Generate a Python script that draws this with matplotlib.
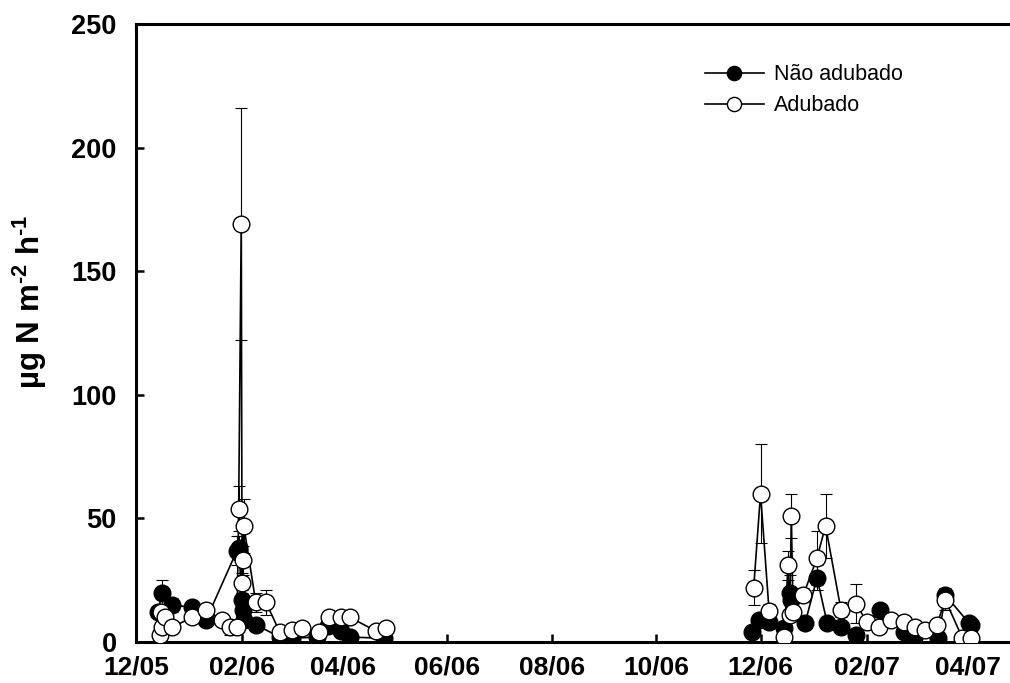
import matplotlib
matplotlib.use('Agg')
import matplotlib.pyplot as plt
import matplotlib.dates as mdates
import pandas as pd

plt.rcParams['font.family'] = ['Liberation Sans', 'DejaVu Sans']
plt.rcParams['mathtext.fontset'] = 'custom'
plt.rcParams['mathtext.rm'] = 'Liberation Sans:bold'
plt.rcParams['mathtext.it'] = 'Liberation Sans:bold'
plt.rcParams['mathtext.bf'] = 'Liberation Sans:bold'

# Não adubado (símbolos cheios)
datas_nao = ['2005-12-14', '2005-12-16', '2005-12-22', '2006-01-03', '2006-01-11',
             '2006-01-29', '2006-01-30', '2006-02-01', '2006-02-01 12:00', '2006-02-02',
             '2006-02-09', '2006-02-23', '2006-03-02', '2006-03-17', '2006-03-23',
             '2006-03-31', '2006-04-05', '2006-04-25',
             '2006-11-26', '2006-11-30', '2006-12-06', '2006-12-15', '2006-12-18',
             '2006-12-19', '2006-12-27', '2007-01-03', '2007-01-09', '2007-01-17',
             '2007-01-26', '2007-02-09', '2007-02-23', '2007-03-01', '2007-03-15',
             '2007-03-19', '2007-04-02', '2007-04-03']
valores_nao = [12, 20, 15, 14, 9,
               37, 38, 17, 13, 9,
               7, 2, 1.5, 2, 6.5,
               4.5, 2, 1.5,
               4, 9, 8, 5.5, 20,
               17, 7.5, 26, 7.5, 6,
               3, 13, 4, 3, 1.6,
               19, 7.5, 7]
erro_nao = [0, 5, 3, 0, 0,
            6, 5, 4, 0, 0,
            0, 0, 0, 0, 0,
            0, 0, 0,
            2, 2, 0, 0, 7,
            4, 0, 5, 0, 0,
            2, 0, 0, 0, 0,
            3, 0, 0]

# Adubado (símbolos vazios)
datas_adu = ['2005-12-15', '2005-12-16', '2005-12-15 12:00', '2005-12-18', '2005-12-22',
             '2006-01-03', '2006-01-11', '2006-01-20', '2006-01-25', '2006-01-29',
             '2006-01-30', '2006-01-31 12:00', '2006-02-01', '2006-02-01 12:00', '2006-02-02',
             '2006-02-09', '2006-02-15', '2006-02-23', '2006-03-02', '2006-03-08',
             '2006-03-18', '2006-03-24', '2006-03-31', '2006-04-05', '2006-04-20',
             '2006-04-26',
             '2006-11-27', '2006-12-01', '2006-12-06', '2006-12-15', '2006-12-17',
             '2006-12-18', '2006-12-19', '2006-12-20', '2006-12-26', '2007-01-03',
             '2007-01-08', '2007-01-17', '2007-01-26', '2007-02-01', '2007-02-08',
             '2007-02-15', '2007-02-23', '2007-03-01', '2007-03-07', '2007-03-14',
             '2007-03-19', '2007-03-29', '2007-04-03']
valores_adu = [3, 6, 12, 10, 6,
               10, 13, 9, 6, 6,
               54, 169, 24, 33, 47,
               16, 16, 4, 5, 5.5,
               4, 10, 10, 10, 4.5,
               5.5,
               22, 60, 12.5, 2, 31,
               11, 51, 12, 19, 34,
               47, 13, 15.5, 8, 6,
               9, 8, 6, 5, 7,
               17, 1.6, 1.6]
erro_adu = [2, 0, 0, 0, 0,
            0, 0, 0, 3, 0,
            9, 47, 4, 6, 11,
            4, 5, 0, 0, 0,
            0, 0, 0, 0, 0,
            0,
            7, 20, 3, 1, 6,
            0, 9, 0, 3, 11,
            13, 3, 8, 0, 0,
            0, 0, 0, 0, 0,
            4, 0, 0]

# as duas campanhas não são ligadas por linha
corte = pd.Timestamp('2006-07-01')

df_nao = pd.DataFrame({'x': pd.to_datetime(datas_nao, format='mixed'),
                       'y': valores_nao, 'e': erro_nao})
df_adu = pd.DataFrame({'x': pd.to_datetime(datas_adu, format='mixed'),
                       'y': valores_adu, 'e': erro_adu})

fig = plt.figure(figsize=(10.1, 6.83), dpi=100)
ax = fig.add_axes([136 / 1010, 41 / 683, 874 / 1010, 618 / 683])

series = [(df_nao, 'black', 'Não adubado', 2), (df_adu, 'white', 'Adubado', 3)]
for df, cor, nome, z in series:
    ax.errorbar(df['x'], df['y'], yerr=df['e'], fmt='none', ecolor='black',
                elinewidth=0.8, capsize=4.5, capthick=0.8, zorder=1)
    for k, parte in enumerate([df[df['x'] < corte], df[df['x'] >= corte]]):
        ax.plot(parte['x'], parte['y'], '-o', color='black', lw=1.2, ms=12,
                mfc=cor, mec='black', mew=1.0,
                label=nome if k == 0 else None, zorder=z)

ax.set_xlim(pd.Timestamp('2005-12-01'), pd.Timestamp('2007-04-25 19:00'))
ax.set_ylim(0, 250)
ax.set_yticks([0, 50, 100, 150, 200, 250])

ticks_x = pd.to_datetime(['2005-12-01', '2006-02-01', '2006-04-01', '2006-06-01',
                          '2006-08-01', '2006-10-01', '2006-12-01', '2007-02-01',
                          '2007-04-01'])
ax.set_xticks(ticks_x)
ax.xaxis.set_major_formatter(mdates.DateFormatter('%m/%y'))

ax.spines['right'].set_visible(False)
for s in ['left', 'bottom', 'top']:
    ax.spines[s].set_linewidth(2.2)

ax.tick_params(axis='x', direction='in', length=6, width=1.8, pad=10,
               labelsize=19)
ax.tick_params(axis='y', direction='in', length=6, width=1.8, pad=14,
               labelsize=19.5)
for lab in ax.get_xticklabels() + ax.get_yticklabels():
    lab.set_fontweight('bold')

ax.set_ylabel('µg N m$^{\u20102}$ h$^{\u20101}$',
              fontsize=22.5, fontweight='bold')
ax.yaxis.set_label_coords(-0.099, 0.55)

ax.legend(loc='upper left', bbox_to_anchor=(686 / 1010, 1 - 45 / 683),
          bbox_transform=fig.transFigure, frameon=False, fontsize=15.5,
          handlelength=2.7, markerscale=0.85, labelspacing=0.45,
          handletextpad=0.5)

fig.savefig('out.png', dpi=100, facecolor='white')
